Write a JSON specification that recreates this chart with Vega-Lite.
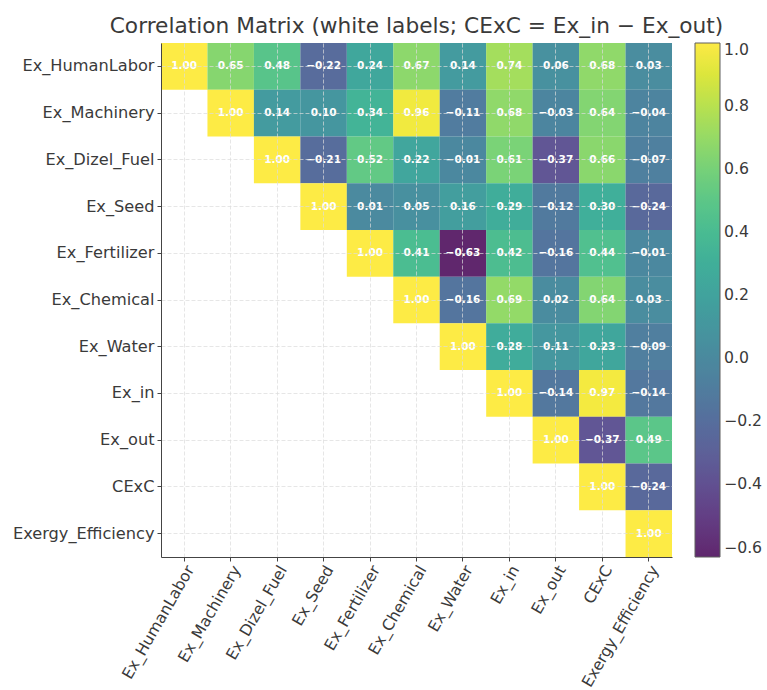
{
  "$schema": "https://vega.github.io/schema/vega-lite/v6.json",
  "width": 511,
  "height": 514,
  "autosize": {"type": "none"},
  "padding": {"left": 161, "top": 43, "right": 96, "bottom": 133},
  "background": "white",
  "config": {"view": {"stroke": null}, "font": "DejaVu Sans"},
  "title": {"text": "Correlation Matrix (white labels; CExC = Ex_in \u2212 Ex_out)", "fontSize": 21.7, "fontWeight": "normal", "color": "#3a3a3a", "anchor": "middle", "offset": 5, "font": "DejaVu Sans"},
  "data": {"values": [
    {"x": "Ex_HumanLabor", "y": "Ex_HumanLabor", "v": 1.00},
    {"x": "Ex_Machinery", "y": "Ex_HumanLabor", "v": 0.65},
    {"x": "Ex_Dizel_Fuel", "y": "Ex_HumanLabor", "v": 0.48},
    {"x": "Ex_Seed", "y": "Ex_HumanLabor", "v": -0.22},
    {"x": "Ex_Fertilizer", "y": "Ex_HumanLabor", "v": 0.24},
    {"x": "Ex_Chemical", "y": "Ex_HumanLabor", "v": 0.67},
    {"x": "Ex_Water", "y": "Ex_HumanLabor", "v": 0.14},
    {"x": "Ex_in", "y": "Ex_HumanLabor", "v": 0.74},
    {"x": "Ex_out", "y": "Ex_HumanLabor", "v": 0.06},
    {"x": "CExC", "y": "Ex_HumanLabor", "v": 0.68},
    {"x": "Exergy_Efficiency", "y": "Ex_HumanLabor", "v": 0.03},
    {"x": "Ex_Machinery", "y": "Ex_Machinery", "v": 1.00},
    {"x": "Ex_Dizel_Fuel", "y": "Ex_Machinery", "v": 0.14},
    {"x": "Ex_Seed", "y": "Ex_Machinery", "v": 0.10},
    {"x": "Ex_Fertilizer", "y": "Ex_Machinery", "v": 0.34},
    {"x": "Ex_Chemical", "y": "Ex_Machinery", "v": 0.96},
    {"x": "Ex_Water", "y": "Ex_Machinery", "v": -0.11},
    {"x": "Ex_in", "y": "Ex_Machinery", "v": 0.68},
    {"x": "Ex_out", "y": "Ex_Machinery", "v": -0.03},
    {"x": "CExC", "y": "Ex_Machinery", "v": 0.64},
    {"x": "Exergy_Efficiency", "y": "Ex_Machinery", "v": -0.04},
    {"x": "Ex_Dizel_Fuel", "y": "Ex_Dizel_Fuel", "v": 1.00},
    {"x": "Ex_Seed", "y": "Ex_Dizel_Fuel", "v": -0.21},
    {"x": "Ex_Fertilizer", "y": "Ex_Dizel_Fuel", "v": 0.52},
    {"x": "Ex_Chemical", "y": "Ex_Dizel_Fuel", "v": 0.22},
    {"x": "Ex_Water", "y": "Ex_Dizel_Fuel", "v": -0.01},
    {"x": "Ex_in", "y": "Ex_Dizel_Fuel", "v": 0.61},
    {"x": "Ex_out", "y": "Ex_Dizel_Fuel", "v": -0.37},
    {"x": "CExC", "y": "Ex_Dizel_Fuel", "v": 0.66},
    {"x": "Exergy_Efficiency", "y": "Ex_Dizel_Fuel", "v": -0.07},
    {"x": "Ex_Seed", "y": "Ex_Seed", "v": 1.00},
    {"x": "Ex_Fertilizer", "y": "Ex_Seed", "v": 0.01},
    {"x": "Ex_Chemical", "y": "Ex_Seed", "v": 0.05},
    {"x": "Ex_Water", "y": "Ex_Seed", "v": 0.16},
    {"x": "Ex_in", "y": "Ex_Seed", "v": 0.29},
    {"x": "Ex_out", "y": "Ex_Seed", "v": -0.12},
    {"x": "CExC", "y": "Ex_Seed", "v": 0.30},
    {"x": "Exergy_Efficiency", "y": "Ex_Seed", "v": -0.24},
    {"x": "Ex_Fertilizer", "y": "Ex_Fertilizer", "v": 1.00},
    {"x": "Ex_Chemical", "y": "Ex_Fertilizer", "v": 0.41},
    {"x": "Ex_Water", "y": "Ex_Fertilizer", "v": -0.63},
    {"x": "Ex_in", "y": "Ex_Fertilizer", "v": 0.42},
    {"x": "Ex_out", "y": "Ex_Fertilizer", "v": -0.16},
    {"x": "CExC", "y": "Ex_Fertilizer", "v": 0.44},
    {"x": "Exergy_Efficiency", "y": "Ex_Fertilizer", "v": -0.01},
    {"x": "Ex_Chemical", "y": "Ex_Chemical", "v": 1.00},
    {"x": "Ex_Water", "y": "Ex_Chemical", "v": -0.16},
    {"x": "Ex_in", "y": "Ex_Chemical", "v": 0.69},
    {"x": "Ex_out", "y": "Ex_Chemical", "v": 0.02},
    {"x": "CExC", "y": "Ex_Chemical", "v": 0.64},
    {"x": "Exergy_Efficiency", "y": "Ex_Chemical", "v": 0.03},
    {"x": "Ex_Water", "y": "Ex_Water", "v": 1.00},
    {"x": "Ex_in", "y": "Ex_Water", "v": 0.28},
    {"x": "Ex_out", "y": "Ex_Water", "v": 0.11},
    {"x": "CExC", "y": "Ex_Water", "v": 0.23},
    {"x": "Exergy_Efficiency", "y": "Ex_Water", "v": -0.09},
    {"x": "Ex_in", "y": "Ex_in", "v": 1.00},
    {"x": "Ex_out", "y": "Ex_in", "v": -0.14},
    {"x": "CExC", "y": "Ex_in", "v": 0.97},
    {"x": "Exergy_Efficiency", "y": "Ex_in", "v": -0.14},
    {"x": "Ex_out", "y": "Ex_out", "v": 1.00},
    {"x": "CExC", "y": "Ex_out", "v": -0.37},
    {"x": "Exergy_Efficiency", "y": "Ex_out", "v": 0.49},
    {"x": "CExC", "y": "CExC", "v": 1.00},
    {"x": "Exergy_Efficiency", "y": "CExC", "v": -0.24},
    {"x": "Exergy_Efficiency", "y": "Exergy_Efficiency", "v": 1.00}
  ]},
  "encoding": {
    "x": {"field": "x", "type": "nominal",
      "scale": {"domain": ["Ex_HumanLabor", "Ex_Machinery", "Ex_Dizel_Fuel", "Ex_Seed", "Ex_Fertilizer", "Ex_Chemical", "Ex_Water", "Ex_in", "Ex_out", "CExC", "Exergy_Efficiency"], "paddingInner": 0, "paddingOuter": 0},
      "axis": {"title": null, "labelAngle": -60, "labelAlign": "right", "labelBaseline": "top", "labelFontSize": 15.7, "labelColor": "#3a3a3a", "labelFont": "DejaVu Sans", "labelPadding": 2, "labelOverlap": false, "domainColor": "#444444", "tickColor": "#444444", "tickSize": 4, "grid": true, "gridColor": "#dcdcdc", "gridDash": [4, 2], "gridOpacity": 0.7, "bandPosition": 0.5, "zindex": 1}},
    "y": {"field": "y", "type": "nominal",
      "scale": {"domain": ["Ex_HumanLabor", "Ex_Machinery", "Ex_Dizel_Fuel", "Ex_Seed", "Ex_Fertilizer", "Ex_Chemical", "Ex_Water", "Ex_in", "Ex_out", "CExC", "Exergy_Efficiency"], "paddingInner": 0, "paddingOuter": 0},
      "axis": {"title": null, "labelFontSize": 16.2, "labelColor": "#3a3a3a", "labelFont": "DejaVu Sans", "labelPadding": 3, "labelOverlap": false, "domainColor": "#444444", "tickColor": "#444444", "tickSize": 4, "grid": true, "gridColor": "#dcdcdc", "gridDash": [4, 2], "gridOpacity": 0.7, "bandPosition": 0.5, "zindex": 1}}
  },
  "layer": [
    {"mark": {"type": "rect", "opacity": 0.85},
     "encoding": {"color": {"field": "v", "type": "quantitative",
        "scale": {"scheme": "viridis", "domain": [-0.63, 1.0]},
        "legend": {"title": null, "orient": "none", "legendX": 534, "legendY": 0, "direction": "vertical", "gradientLength": 514, "gradientThickness": 25, "gradientStrokeColor": "#444444", "gradientStrokeWidth": 1, "gradientOpacity": 0.85, "values": [-0.6, -0.4, -0.2, 0.0, 0.2, 0.4, 0.6, 0.8, 1.0], "format": ".1f", "labelFontSize": 15.7, "labelColor": "#3a3a3a", "labelFont": "DejaVu Sans", "labelOffset": 4}}}},
    {"mark": {"type": "text", "color": "white", "fontWeight": "bold", "fontSize": 10.5, "font": "DejaVu Sans"},
     "encoding": {"text": {"field": "v", "type": "quantitative", "format": ".2f"}}}
  ]
}
